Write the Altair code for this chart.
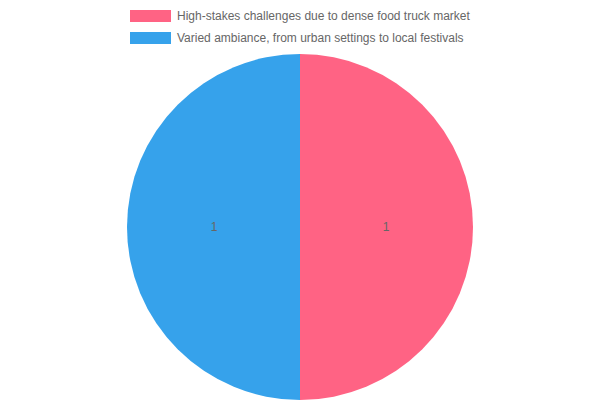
import altair as alt
import pandas as pd

categories = [
    "High-stakes challenges due to dense food truck market",
    "Varied ambiance, from urban settings to local festivals",
]
values = [1, 1]
colors = ["#FF6384", "#36A2EB"]

df = pd.DataFrame({"category": categories, "value": values, "order": [0, 1]})

base = alt.Chart(df).encode(
    theta=alt.Theta("value:Q", stack=True),
    order=alt.Order("order:Q"),
    x=alt.value(292),
    y=alt.value(219),
)

pie = base.mark_arc(radius=173).encode(
    color=alt.Color(
        "category:N",
        scale=alt.Scale(domain=categories, range=colors),
        legend=alt.Legend(
            title=None,
            orient="none",
            legendX=122,
            legendY=-2,
            direction="vertical",
            symbolType="M-1,-0.6H3.1V0.6H-1Z",
            symbolSize=400,
            symbolStrokeWidth=0,
            symbolOpacity=1,
            labelFont="Liberation Sans",
            labelFontSize=12,
            labelColor="#666666",
            labelOffset=27,
            labelLimit=400,
            rowPadding=6,
            padding=0,
        ),
    )
)

labels = base.mark_text(
    radius=86, font="Liberation Sans", fontSize=12, color="#666666"
).encode(text=alt.Text("value:Q"))

chart = (
    alt.layer(pie, labels)
    .properties(width=584, height=392, padding=0, autosize=alt.AutoSizeParams(type="none"))
    .configure_view(stroke=None)
)

chart.save("out.html", embed_options={"renderer": "svg", "actions": False})
